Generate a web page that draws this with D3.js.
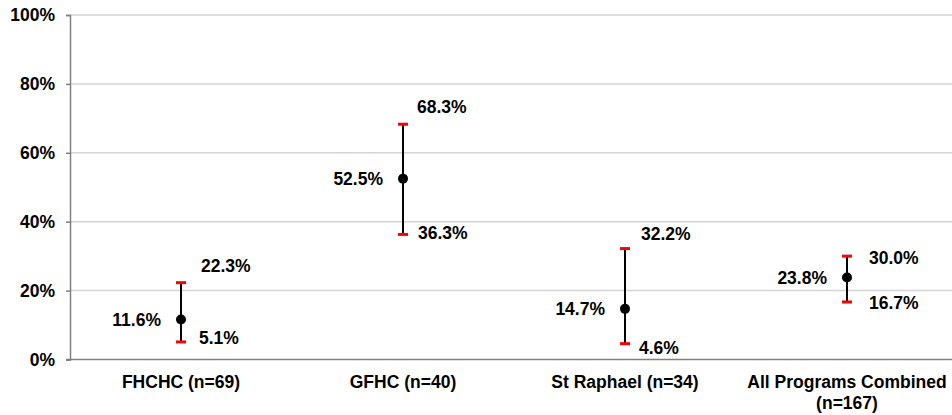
<!DOCTYPE html>
<html>
<head>
<meta charset="utf-8">
<script src="https://cdn.jsdelivr.net/npm/d3@7"></script>
<style>
  html, body { margin: 0; padding: 0; background: #fff; }
  svg { display: block; }
  text { font-family: "Liberation Sans", Arial, sans-serif; font-weight: bold; fill: #000; }
</style>
</head>
<body>
<svg id="chart" width="952" height="415"></svg>
<script>
const categories = ["FHCHC (n=69)", "GFHC (n=40)", "St Raphael (n=34)", "All Programs Combined (n=167)"];
const categoryLines = [["FHCHC (n=69)"], ["GFHC (n=40)"], ["St Raphael (n=34)"], ["All Programs Combined", "(n=167)"]];
const meanValues = [11.6, 52.5, 14.7, 23.8];
const lowerValues = [5.1, 36.3, 4.6, 16.7];
const upperValues = [22.3, 68.3, 32.2, 30.0];
const yTicks = [0, 20, 40, 60, 80, 100];
const yTickLabels = ["0%", "20%", "40%", "60%", "80%", "100%"];

// label layout offsets (pixels) relative to caps, as placed in the original
const upperLabelDy = [-17, -17, -15, 2];
const lowerLabelDy = [-4, -2, 4, 1];
const upperLabelDx = [20, 14, 16, 22];
const lowerLabelDx = [18, 15, 14, 22];

const svg = d3.select("#chart");
const mLeft = 70, mRight = 958, mTop = 15, mBottom = 359.5;

const x = d3.scaleBand().domain(categories).range([mLeft, mRight]);
const y = d3.scaleLinear().domain([0, 100]).range([mBottom, mTop]);

// gridlines
svg.append("g").selectAll("line").data(yTicks.filter(d => d > 0)).join("line")
  .attr("x1", mLeft).attr("x2", 952)
  .attr("y1", d => y(d)).attr("y2", d => y(d))
  .attr("stroke", "#d4d4d4").attr("stroke-width", 1.5);

// y axis
const yAxis = d3.axisLeft(y).tickValues(yTicks).tickFormat((d, i) => yTickLabels[i]).tickSize(4).tickPadding(11);
const gy = svg.append("g").attr("transform", `translate(${mLeft},0)`).call(yAxis);
gy.select(".domain").attr("stroke", "#808080").attr("stroke-width", 1.5);
gy.selectAll(".tick line").attr("stroke", "#808080").attr("stroke-width", 1.5);
gy.selectAll(".tick text").style("font-size", "17.5px").style("font-family", "Liberation Sans, Arial, sans-serif").style("font-weight", "bold").attr("fill", "#000");

// x axis line
svg.append("line").attr("x1", mLeft - 4).attr("x2", 952).attr("y1", mBottom).attr("y2", mBottom)
  .attr("stroke", "#808080").attr("stroke-width", 1.5);

// x labels
const xl = svg.append("g").selectAll("text").data(categories).join("text")
  .attr("x", d => x(d) + x.bandwidth() / 2)
  .attr("y", 387.5)
  .attr("text-anchor", "middle")
  .style("font-size", "17.5px");
xl.each(function(d, i) {
  d3.select(this).selectAll("tspan").data(categoryLines[i]).join("tspan")
    .attr("x", x(d) + x.bandwidth() / 2)
    .attr("dy", (t, j) => j === 0 ? 0 : 21.5)
    .text(t => t);
});

const cx = i => x(categories[i]) + x.bandwidth() / 2;

const g = svg.append("g");
categories.forEach((c, i) => {
  const X = cx(i);
  g.append("line").attr("x1", X).attr("x2", X)
    .attr("y1", y(lowerValues[i])).attr("y2", y(upperValues[i]))
    .attr("stroke", "#000").attr("stroke-width", 2);
  [lowerValues[i], upperValues[i]].forEach(v => {
    g.append("line").attr("x1", X - 5).attr("x2", X + 5)
      .attr("y1", y(v)).attr("y2", y(v))
      .attr("stroke", "#ff0000").attr("stroke-width", 3);
  });
  g.append("circle").attr("cx", X).attr("cy", y(meanValues[i])).attr("r", 5).attr("fill", "#000");

  g.append("text").attr("x", X - 20).attr("y", y(meanValues[i])).attr("dy", "0.35em")
    .attr("text-anchor", "end").style("font-size", "17.5px").text(meanValues[i].toFixed(1) + "%");
  g.append("text").attr("x", X + upperLabelDx[i]).attr("y", y(upperValues[i]) + upperLabelDy[i]).attr("dy", "0.35em")
    .style("font-size", "17.5px").text(upperValues[i].toFixed(1) + "%");
  g.append("text").attr("x", X + lowerLabelDx[i]).attr("y", y(lowerValues[i]) + lowerLabelDy[i]).attr("dy", "0.35em")
    .style("font-size", "17.5px").text(lowerValues[i].toFixed(1) + "%");
});
</script>
</body>
</html>
